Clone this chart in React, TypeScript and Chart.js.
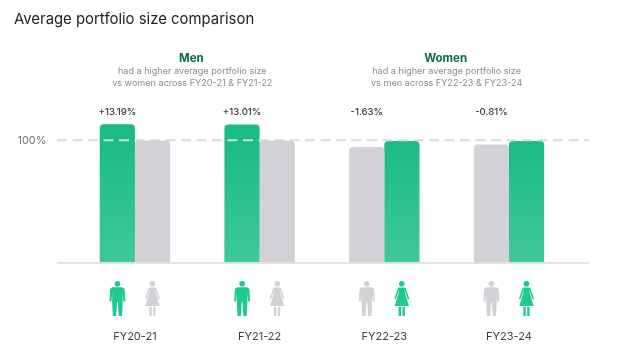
import React, { useEffect, useRef } from "react";
import { Chart, registerables } from "chart.js";

Chart.register(...registerables);

const FONT = "Inter, sans-serif";
const categories = ["FY20-21", "FY21-22", "FY22-23", "FY23-24"];
const menValues = [113.19, 113.01, 94.5, 96.4];
const womenValues = [99.6, 99.6, 99.4, 99.4];
const leader = ["men", "men", "women", "women"];
const deltaLabels = ["+13.19%", "+13.01%", "-1.63%", "-0.81%"];
const title = "Average portfolio size comparison";
const notes = [
  { from: 0, to: 1, head: "Men", lines: ["had a higher average portfolio size", "vs women across FY20-21 & FY21-22"] },
  { from: 2, to: 3, head: "Women", lines: ["had a higher average portfolio size", "vs men across FY22-23 & FY23-24"] },
];

const GREEN_ICON = "#1fca8e";
const GREY = "#d2d2d6";

function barFill(isLeader: boolean, chart: any) {
  if (!isLeader) return GREY;
  const area = chart.chartArea;
  if (!area) return "#1abc85";
  const g = chart.ctx.createLinearGradient(0, area.bottom - 122, 0, area.bottom);
  g.addColorStop(0, "#1abc85");
  g.addColorStop(1, "#40c899");
  return g;
}

function drawMan(ctx: CanvasRenderingContext2D, cx: number, top: number, color: string) {
  ctx.save();
  ctx.fillStyle = color;
  ctx.translate(cx, top);
  ctx.beginPath();
  ctx.arc(0, 2.8, 2.8, 0, Math.PI * 2);
  ctx.fill();
  ctx.beginPath();
  ctx.moveTo(-4.8, 6.3);
  ctx.lineTo(4.8, 6.3);
  ctx.quadraticCurveTo(7, 6.3, 7.3, 9);
  ctx.lineTo(8, 20.5);
  ctx.lineTo(6, 20.5);
  ctx.lineTo(5.2, 11.5);
  ctx.lineTo(5.3, 21);
  ctx.lineTo(4.6, 35);
  ctx.lineTo(1.3, 35);
  ctx.lineTo(0.4, 21);
  ctx.lineTo(-0.4, 21);
  ctx.lineTo(-1.3, 35);
  ctx.lineTo(-4.6, 35);
  ctx.lineTo(-5.3, 21);
  ctx.lineTo(-5.2, 11.5);
  ctx.lineTo(-6, 20.5);
  ctx.lineTo(-8, 20.5);
  ctx.lineTo(-7.3, 9);
  ctx.quadraticCurveTo(-7, 6.3, -4.8, 6.3);
  ctx.closePath();
  ctx.fill();
  ctx.restore();
}

function drawWoman(ctx: CanvasRenderingContext2D, cx: number, top: number, color: string) {
  ctx.save();
  ctx.translate(cx, top);
  ctx.fillStyle = color;
  ctx.beginPath();
  ctx.arc(0, 2.8, 2.8, 0, Math.PI * 2);
  ctx.fill();
  // dress
  ctx.beginPath();
  ctx.moveTo(-2.6, 6.5);
  ctx.lineTo(2.6, 6.5);
  ctx.lineTo(3.2, 12);
  ctx.lineTo(7.2, 25);
  ctx.lineTo(-7.2, 25);
  ctx.lineTo(-3.2, 12);
  ctx.closePath();
  ctx.fill();
  // arms
  ctx.strokeStyle = color;
  ctx.lineWidth = 1.6;
  ctx.lineCap = "round";
  ctx.beginPath();
  ctx.moveTo(-3, 7.2);
  ctx.lineTo(-6.6, 17.5);
  ctx.moveTo(3, 7.2);
  ctx.lineTo(6.6, 17.5);
  ctx.stroke();
  // legs
  ctx.fillRect(-3.1, 25.8, 2.4, 9.2);
  ctx.fillRect(0.7, 25.8, 2.4, 9.2);
  ctx.restore();
}

const decorations = {
  id: "decorations",
  beforeDatasetsDraw(chart: any) {
    const { ctx, scales } = chart;
    const yBase = scales.y.getPixelForValue(0);
    ctx.save();
    ctx.fillStyle = "#e2e2e5";
    ctx.fillRect(57, yBase, 532, 2);
    ctx.restore();
  },
  afterDatasetsDraw(chart: any) {
    const { ctx, scales } = chart;
    const x = scales.x;
    const y = scales.y;
    const y100 = y.getPixelForValue(100);
    ctx.save();
    ctx.strokeStyle = "#d9d9dc";
    ctx.lineWidth = 2;
    ctx.setLineDash([10, 5.5]);
    ctx.beginPath();
    ctx.moveTo(57, y100);
    ctx.lineTo(589, y100);
    ctx.stroke();
    ctx.setLineDash([]);

    ctx.textAlign = "left";
    ctx.textBaseline = "alphabetic";
    ctx.fillStyle = "#222222";
    ctx.font = `400 14.9px ${FONT}`;
    ctx.fillText(title, 14, 24);

    ctx.textAlign = "center";
    notes.forEach((n, k) => {
      const cx = (x.getPixelForValue(n.from) + x.getPixelForValue(n.to)) / 2 - (k === 0 ? 5 : 0);
      ctx.fillStyle = "#0b6b4a";
      ctx.font = `700 11.5px ${FONT}`;
      ctx.fillText(n.head, cx - 1, 62);
      ctx.fillStyle = "#8b8b90";
      ctx.font = `400 9.1px ${FONT}`;
      ctx.fillText(n.lines[0], cx, 74);
      ctx.fillText(n.lines[1], cx, 86);
    });

    categories.forEach((_, i) => {
      const cx = x.getPixelForValue(i);
      ctx.fillStyle = "#3a3a3e";
      ctx.font = `500 9.6px ${FONT}`;
      ctx.fillText(deltaLabels[i], cx - 17.5, 115);
      const menLead = leader[i] === "men";
      drawMan(ctx, cx - 17.5, 281, menLead ? GREEN_ICON : GREY);
      drawWoman(ctx, cx + 17.5, 281, menLead ? GREY : GREEN_ICON);
    });
    ctx.restore();
  },
};

export default function App() {
  const ref = useRef<HTMLCanvasElement>(null);
  useEffect(() => {
    document.body.style.margin = "0";
    document.body.style.background = "#ffffff";
    const chart = new Chart(ref.current as HTMLCanvasElement, {
      type: "bar",
      data: {
        labels: categories,
        datasets: [
          {
            label: "Men",
            data: menValues,
            backgroundColor: (c: any) => barFill(leader[c.dataIndex] === "men", c.chart),
          },
          {
            label: "Women",
            data: womenValues,
            backgroundColor: (c: any) => barFill(leader[c.dataIndex] === "women", c.chart),
          },
        ],
      },
      options: {
        animation: false,
        responsive: false,
        layout: { padding: { top: 0, right: 48.7, bottom: 0, left: 0 } },
        datasets: {
          bar: {
            categoryPercentage: 0.565,
            barPercentage: 1,
            borderRadius: { topLeft: 4, topRight: 4, bottomLeft: 0, bottomRight: 0 },
            borderSkipped: false,
          },
        },
        plugins: { legend: { display: false }, title: { display: false }, tooltip: { enabled: false } },
        scales: {
          x: {
            afterFit: (s: any) => { s.height = 92; },
            grid: { display: false, drawTicks: false },
            border: { display: false },
            ticks: {
              padding: 68,
              maxRotation: 0,
              color: "#3f3f44",
              font: { family: FONT, size: 11, weight: "400" },
            },
          },
          y: {
            min: 0,
            max: 188.4,
            afterFit: (s: any) => { s.width = 72.6; },
            afterBuildTicks: (s: any) => { s.ticks = [{ value: 100 }]; },
            grid: { display: false, drawTicks: false },
            border: { display: false },
            ticks: {
              padding: 26,
              color: "#77777c",
              font: { family: FONT, size: 11 },
              callback: (v: any) => `${v}%`,
            },
          },
        },
      },
      plugins: [decorations],
    } as any);
    return () => chart.destroy();
  }, []);
  return <canvas ref={ref} width={620} height={354} style={{ display: "block" }} />;
}
